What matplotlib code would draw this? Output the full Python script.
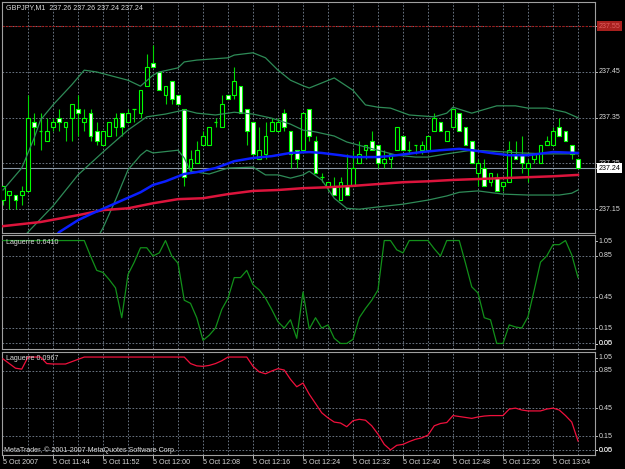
import matplotlib.pyplot as plt
from matplotlib.transforms import blended_transform_factory

plt.rcParams['font.family'] = ['Liberation Sans', 'DejaVu Sans']

title_text = "GBPJPY,M1  237.26 237.26 237.24 237.24"

# one-minute candles, bar 0 = 11:36
opens = [237.17, 237.18, 237.18, 237.18, 237.19, 237.34, 237.32, 237.30, 237.33, 237.35,
         237.33, 237.35, 237.37, 237.34, 237.36, 237.32, 237.29, 237.31, 237.33, 237.36,
         237.34, 237.37, 237.36, 237.42, 237.47, 237.45, 237.40, 237.43, 237.40, 237.37,
         237.24, 237.25, 237.29, 237.29, 237.34, 237.33, 237.40, 237.40, 237.42, 237.37,
         237.34, 237.26, 237.27, 237.32, 237.32, 237.36, 237.32, 237.28, 237.28, 237.37,
         237.30, 237.22, 237.20, 237.20, 237.17, 237.20, 237.20, 237.25, 237.28, 237.30,
         237.29, 237.25, 237.26, 237.28, 237.31, 237.28, 237.29, 237.28, 237.28, 237.32,
         237.34, 237.30, 237.33, 237.36, 237.33, 237.30, 237.23, 237.24, 237.21, 237.22,
         237.20, 237.21, 237.27, 237.27, 237.24, 237.26, 237.25, 237.29, 237.29, 237.33,
         237.32, 237.29, 237.26]
highs = [237.20, 237.19, 237.18, 237.20, 237.40, 237.36, 237.36, 237.35, 237.35, 237.37,
         237.34, 237.38, 237.40, 237.37, 237.37, 237.34, 237.32, 237.34, 237.36, 237.36,
         237.37, 237.37, 237.41, 237.49, 237.51, 237.45, 237.42, 237.43, 237.40, 237.37,
         237.28, 237.30, 237.32, 237.33, 237.35, 237.40, 237.40, 237.46, 237.42, 237.37,
         237.34, 237.33, 237.34, 237.35, 237.35, 237.37, 237.32, 237.28, 237.36, 237.37,
         237.31, 237.23, 237.21, 237.22, 237.22, 237.27, 237.28, 237.30, 237.29, 237.32,
         237.29, 237.28, 237.27, 237.33, 237.31, 237.30, 237.29, 237.30, 237.31, 237.36,
         237.34, 237.32, 237.37, 237.36, 237.33, 237.30, 237.26, 237.26, 237.23, 237.23,
         237.21, 237.30, 237.30, 237.31, 237.26, 237.27, 237.29, 237.31, 237.33, 237.35,
         237.32, 237.29, 237.26]
lows = [237.16, 237.15, 237.15, 237.16, 237.19, 237.29, 237.28, 237.30, 237.32, 237.32,
        237.30, 237.30, 237.31, 237.32, 237.30, 237.29, 237.29, 237.31, 237.31, 237.31,
        237.34, 237.34, 237.35, 237.42, 237.46, 237.41, 237.38, 237.38, 237.38, 237.20,
        237.23, 237.25, 237.29, 237.29, 237.33, 237.33, 237.39, 237.39, 237.36, 237.29,
        237.27, 237.26, 237.26, 237.32, 237.32, 237.32, 237.24, 237.24, 237.28, 237.30,
        237.23, 237.21, 237.19, 237.18, 237.17, 237.18, 237.20, 237.25, 237.26, 237.28,
        237.24, 237.24, 237.24, 237.28, 237.28, 237.27, 237.27, 237.27, 237.28, 237.32,
        237.32, 237.30, 237.33, 237.32, 237.29, 237.25, 237.20, 237.20, 237.20, 237.19,
        237.19, 237.21, 237.26, 237.23, 237.21, 237.25, 237.25, 237.29, 237.29, 237.31,
        237.30, 237.26, 237.24]
closes = [237.20, 237.19, 237.17, 237.19, 237.35, 237.33, 237.32, 237.32, 237.34, 237.34,
          237.34, 237.38, 237.36, 237.35, 237.31, 237.30, 237.32, 237.34, 237.35, 237.33,
          237.36, 237.37, 237.41, 237.46, 237.46, 237.41, 237.42, 237.39, 237.38, 237.22,
          237.26, 237.28, 237.31, 237.33, 237.34, 237.38, 237.39, 237.43, 237.36, 237.32,
          237.27, 237.28, 237.31, 237.34, 237.34, 237.33, 237.27, 237.26, 237.36, 237.31,
          237.23, 237.22, 237.21, 237.18, 237.21, 237.18, 237.24, 237.27, 237.29, 237.28,
          237.25, 237.26, 237.27, 237.33, 237.28, 237.28, 237.29, 237.29, 237.31, 237.35,
          237.32, 237.32, 237.37, 237.32, 237.29, 237.25, 237.25, 237.20, 237.23, 237.19,
          237.21, 237.28, 237.26, 237.25, 237.25, 237.27, 237.29, 237.30, 237.32, 237.31,
          237.30, 237.27, 237.24]

# bollinger bands
upper_bar = [0, 3, 5, 6, 8, 11, 13, 15, 20, 22, 24, 25, 28, 29, 31, 36, 37, 40, 42, 44,
             46, 48, 49, 53, 54, 56, 58, 60, 62, 65, 69, 71, 72, 75, 79, 82, 84, 87, 90, 92]
upper_val = [237.192, 237.240, 237.306, 237.345, 237.378, 237.422, 237.454, 237.450, 237.432, 237.419,
             237.443, 237.450, 237.459, 237.472, 237.476, 237.481, 237.487, 237.492, 237.481, 237.454,
             237.432, 237.420, 237.415, 237.437, 237.428, 237.410, 237.378, 237.373, 237.371, 237.356,
             237.352, 237.360, 237.373, 237.360, 237.376, 237.376, 237.371, 237.371, 237.362, 237.350]
middle_bar = [3, 4, 8, 12, 16, 20, 23, 26, 29, 31, 34, 37, 40, 43, 46, 48, 50, 53, 55, 58,
              60, 63, 66, 68, 71, 75, 78, 83, 87, 92]
middle_val = [237.085, 237.100, 237.157, 237.225, 237.275, 237.323, 237.352, 237.358, 237.367, 237.360,
              237.356, 237.362, 237.358, 237.349, 237.336, 237.323, 237.319, 237.310, 237.297, 237.286,
              237.279, 237.268, 237.264, 237.264, 237.271, 237.279, 237.277, 237.273, 237.271, 237.271]
lower_bar = [15, 16, 18, 20, 22, 23, 24, 28, 29, 30, 33, 36, 40, 42, 44, 46, 48, 49, 51, 53,
             55, 57, 60, 64, 68, 71, 73, 76, 80, 84, 89, 91, 92]
lower_val = [237.085, 237.109, 237.170, 237.236, 237.268, 237.279, 237.273, 237.279, 237.262, 237.233,
             237.227, 237.240, 237.242, 237.225, 237.225, 237.218, 237.225, 237.233, 237.214, 237.174,
             237.152, 237.150, 237.155, 237.161, 237.170, 237.179, 237.187, 237.190, 237.183, 237.181,
             237.181, 237.185, 237.192]

# moving averages
blue_bar = [8, 9, 12, 14, 18, 22, 24, 26, 29, 31, 34, 37, 40, 43, 46, 49, 51, 54, 56, 60,
            63, 67, 70, 73, 75, 78, 81, 84, 88, 92]
blue_val = [237.085, 237.100, 237.126, 237.139, 237.163, 237.187, 237.203, 237.211, 237.227, 237.231,
            237.240, 237.255, 237.262, 237.266, 237.273, 237.275, 237.273, 237.268, 237.264, 237.264,
            237.268, 237.275, 237.279, 237.282, 237.279, 237.273, 237.268, 237.268, 237.275, 237.273]
red_bar = [0, 6, 12, 16, 20, 24, 28, 32, 36, 40, 44, 48, 52, 56, 60, 64, 68, 72, 76, 80, 84, 88, 92]
red_val = [237.113, 237.122, 237.137, 237.148, 237.152, 237.163, 237.172, 237.174, 237.183, 237.190,
           237.192, 237.196, 237.198, 237.201, 237.205, 237.209, 237.211, 237.214, 237.216, 237.218,
           237.220, 237.222, 237.225]

# Laguerre oscillators, one value per bar
laguerre_fast = [1.0, 1.0, 1.0, 1.0, 1.0, 1.0, 1.0, 1.0, 1.0, 1.0, 1.0, 1.0, 1.0, 1.0,
                 0.85, 0.71, 0.69, 0.62, 0.54, 0.25, 0.67, 0.79, 0.93, 0.93, 0.85, 0.88,
                 1.0, 0.85, 0.78, 0.42, 0.39, 0.25, 0.03, 0.08, 0.15, 0.33, 0.44, 0.64,
                 0.64, 0.71, 0.57, 0.52, 0.44, 0.33, 0.21, 0.15, 0.23, 0.05, 0.50, 0.14,
                 0.25, 0.15, 0.18, 0.05, 0.0, 0.0, 0.04, 0.25, 0.34, 0.42, 0.52, 1.0,
                 1.0, 0.91, 0.88, 1.0, 1.0, 1.0, 1.0, 0.92, 0.85, 1.0, 1.0, 1.0, 0.78,
                 0.55, 0.49, 0.25, 0.23, 0.0, 0.0, 0.18, 0.16, 0.15, 0.26, 0.52, 0.79,
                 0.85, 0.96, 0.96, 1.0, 0.86, 0.641]
laguerre_slow = [0.98, 0.93, 0.88, 0.87, 1.0, 1.0, 1.0, 0.93, 0.925, 0.925, 0.925, 0.95, 0.975,
                 1.0, 1.0, 1.0, 1.0, 1.0, 1.0, 1.0, 1.0, 1.0, 1.0, 1.0, 1.0, 1.0, 1.0, 1.0,
                 1.0, 1.0, 0.93, 0.905, 0.90, 0.91, 0.93, 0.96, 1.0, 1.0, 1.0, 1.0, 0.90,
                 0.84, 0.82, 0.85, 0.875, 0.86, 0.76, 0.68, 0.72, 0.60, 0.50, 0.40, 0.345,
                 0.30, 0.29, 0.25, 0.315, 0.33, 0.32, 0.26, 0.17, 0.06, 0.0, 0.05, 0.06,
                 0.09, 0.115, 0.13, 0.16, 0.26, 0.285, 0.295, 0.37, 0.36, 0.35, 0.34, 0.355,
                 0.365, 0.37, 0.37, 0.37, 0.44, 0.45, 0.43, 0.42, 0.42, 0.42, 0.44, 0.45,
                 0.43, 0.37, 0.30, 0.0967]

time_bars = [0, 8, 16, 24, 32, 40, 48, 56, 64, 72, 80, 88]
time_labels = ["5 Oct 2007", "5 Oct 11:44", "5 Oct 11:52", "5 Oct 12:00", "5 Oct 12:08",
               "5 Oct 12:16", "5 Oct 12:24", "5 Oct 12:32", "5 Oct 12:40", "5 Oct 12:48",
               "5 Oct 12:56", "5 Oct 13:04"]
price_levels = [237.45, 237.35, 237.25, 237.15]
alert_price = 237.55
bid_price = 237.24
osc_levels = [0.85, 0.45, 0.15, 0.0]

W, H = 625, 469
GRID = '#7a8796'
TXT = '#dcdcdc'
FS = 5.1

fig = plt.figure(figsize=(W / 100, H / 100), dpi=100, facecolor='black')


def add_panel(top, bottom):
    ax = fig.add_axes([2 / W, 1 - bottom / H, 593 / W, (bottom - top) / H])
    ax.set_facecolor('black')
    ax.set_xticks([])
    ax.set_yticks([])
    for s in ax.spines.values():
        s.set_color('#a0a0a0')
        s.set_linewidth(0.8)
    ax.set_xlim(-0.16, 94.72)
    for b in range(4, 93, 4):
        ax.axvline(b, color=GRID, lw=0.6, ls=(0, (2, 2)), zorder=0)
    return ax


def right_label(ax, y, s, **kw):
    tr = ax.get_yaxis_transform()
    ax.plot([1.0, 1.004], [y, y], color=TXT, lw=0.6, transform=tr, clip_on=False)
    ax.text(1.006, y, s, transform=tr, color=TXT, fontsize=FS, ha='left', va='center',
            clip_on=False, **kw)


ax1 = add_panel(2, 233)
ax2 = add_panel(235.4, 348.6)
ax3 = add_panel(352.4, 454.6)

# main price window
ax1.set_ylim(237.098, 237.603)
for p in price_levels + [alert_price]:
    ax1.axhline(p, color=GRID, lw=0.6, ls=(0, (2, 2)), zorder=0)
ax1.axhline(alert_price, color='#a01818', lw=0.8, ls=(0, (2, 1.5)), zorder=1)
ax1.axhline(bid_price, color='#8b98a6', lw=0.8, zorder=1)

for i in range(len(opens)):
    o, h, l, c = opens[i], highs[i], lows[i], closes[i]
    ax1.vlines(i, l, h, color='#00d800', lw=0.8, zorder=2)
    if c == o:
        ax1.hlines(o, i - 0.3, i + 0.3, color='#00ff00', lw=0.9, zorder=3)
    else:
        ax1.bar(i, abs(c - o), bottom=min(o, c), width=0.58,
                color='white' if c < o else 'black', edgecolor='#00ff00', linewidth=0.8, zorder=3)

for xs, ys in [(upper_bar, upper_val), (middle_bar, middle_val), (lower_bar, lower_val)]:
    ax1.plot(xs, ys, color='#2e8b57', lw=0.9, zorder=4)
ax1.plot(red_bar, red_val, color='#dc143c', lw=1.8, zorder=4)
ax1.plot(blue_bar, blue_val, color='#0a1eff', lw=1.8, zorder=5)

for p in price_levels:
    right_label(ax1, p, f"{p:.2f}")
right_label(ax1, alert_price, f"{alert_price:.2f}",
            bbox=dict(facecolor='#a8201e', edgecolor='none', pad=1.0))
ax1.texts[-1].set_color('#e06060')
right_label(ax1, bid_price, f"{bid_price:.2f}",
            bbox=dict(facecolor='white', edgecolor='none', pad=1.0))
ax1.texts[-1].set_color('black')

ax1.text(0.0067, 0.974, title_text, transform=ax1.transAxes, color=TXT, fontsize=FS,
         ha='left', va='center')

# oscillator windows
for ax, vals, col, name in [(ax2, laguerre_fast, '#12901a', "Laguerre 0.6410"),
                            (ax3, laguerre_slow, '#f0103c', "Laguerre 0.0967")]:
    ax.set_ylim(-0.05, 1.05)
    for lv in osc_levels:
        ax.axhline(lv, color=GRID, lw=0.6, ls=(0, (2, 2)), zorder=0)
    ax.plot(range(len(vals)), vals, color=col, lw=0.9, zorder=3)
    ax.text(0.0067, 0.94, name, transform=ax.transAxes, color=TXT, fontsize=FS,
            ha='left', va='center')
    right_label(ax, 0.995, "1.05")
    for lv in [0.85, 0.45, 0.15]:
        right_label(ax, lv, f"{lv:.2f}")
    right_label(ax, -0.005, "0.00")
    right_label(ax, -0.005, "0.05")

ax3.text(0.004, 0.045, "MetaTrader, \u00a9 2001-2007 MetaQuotes Software Corp.",
         transform=ax3.transAxes, color=TXT, fontsize=FS, ha='left', va='center')

# time axis
trx = blended_transform_factory(ax3.transData, ax3.transAxes)
for b, lab in zip(time_bars, time_labels):
    ax3.plot([b, b], [0, -0.035], color=TXT, lw=0.6, transform=trx, clip_on=False)
    ax3.text(b - 0.05, -0.075, lab, transform=trx, color=TXT, fontsize=FS,
             ha='left', va='center', clip_on=False)

fig.savefig('out.png', dpi=100, facecolor='black')
